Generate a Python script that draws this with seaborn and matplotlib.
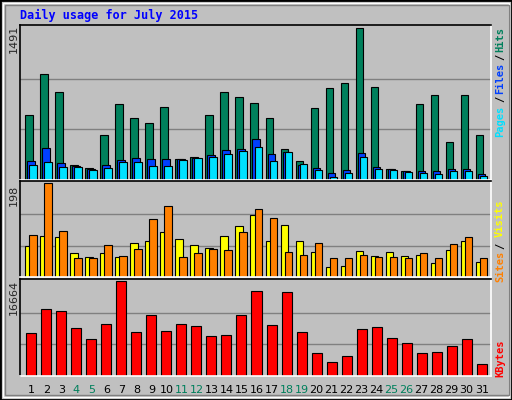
import matplotlib
matplotlib.use("Agg")
import matplotlib.pyplot as plt
import seaborn as sns
import pandas as pd
import numpy as np
from matplotlib.patches import Rectangle

sns.set_style("white")

days = list(range(1, 32))
weekend_days = [4, 5, 11, 12, 18, 19, 25, 26]
hits = [641,1036,864,145,115,439,742,611,560,712,206,226,641,864,813,752,611,307,186,702,904,955,1491,914,105,84,742,833,368,833,439]
files = [186,317,165,135,105,145,196,216,206,206,206,216,246,297,307,398,256,277,145,115,64,94,266,125,105,84,84,84,105,105,54]
pages = [145,175,125,125,94,115,175,175,135,135,196,216,226,256,287,327,186,277,155,94,34,64,226,105,94,74,64,54,84,84,44]
visits = [65,86,84,50,43,50,43,71,75,95,80,67,62,86,108,131,75,110,75,52,22,24,54,45,52,45,47,30,56,75,32]
sites = [88,198,97,39,39,67,45,58,121,149,43,50,58,56,95,144,125,52,47,71,39,39,47,43,43,39,50,41,69,84,41]
kbytes = [7541,11738,11373,8454,6447,9184,16664,7724,10643,7906,9184,8819,6994,7177,10643,14839,9001,14657,7724,4075,2433,3527,8271,8636,6629,5717,4075,4257,5170,6447,2068]

BG = "#C0C0C0"
W, H = 512, 400
fig = plt.figure(figsize=(W/100, H/100), dpi=100, facecolor=BG)

def fx(px): return px / W
def fy(py): return 1 - py / H

fig.patches.append(Rectangle((0, 0), 1, 1, transform=fig.transFigure, fill=False, ec="black", lw=2))
fig.patches.append(Rectangle((fx(3), fy(397)), fx(506), 394/H, transform=fig.transFigure, fill=False, ec="white", lw=1))
fig.patches.append(Rectangle((fx(5), fy(395)), fx(504), 390/H, transform=fig.transFigure, fill=False, ec="#808080", lw=1))

def mk_ax(top, bottom):
    ax = fig.add_axes([fx(20), fy(bottom), fx(491) - fx(20), (bottom - top) / H])
    ax.set_facecolor(BG)
    ax.set_xlim(-0.753, 30.62)
    for s in ["left", "top"]:
        ax.spines[s].set_color("black"); ax.spines[s].set_linewidth(1.2)
    for s in ["right", "bottom"]:
        ax.spines[s].set_color("white"); ax.spines[s].set_linewidth(1.2)
    ax.set_xticks([])
    return ax

x = np.arange(31)
bw = 0.48

ax1 = mk_ax(25, 180)
m1 = max(hits)
ax1.set_ylim(0, m1 * 1.02)
ax1.set_yticks([m1/3, 2*m1/3]); ax1.set_yticklabels([])
ax1.tick_params(left=False)
ax1.grid(axis="y", color="#808080", lw=1); ax1.set_axisbelow(True)
ax1.bar(x - 0.4, hits, width=bw, align="edge", color="#00805C", ec="black", lw=0.8)
ax1.bar(x - 0.267, files, width=bw, align="edge", color="#0040FF", ec="black", lw=0.8)
ax1.bar(x - 0.133, pages, width=bw, align="edge", color="#00E0FF", ec="black", lw=0.8)

ax2 = mk_ax(181, 277)
m2 = max(sites)
ax2.set_ylim(0, m2 * 1.02)
ax2.set_yticks([m2/3, 2*m2/3]); ax2.set_yticklabels([])
ax2.tick_params(left=False)
ax2.grid(axis="y", color="#808080", lw=1); ax2.set_axisbelow(True)
ax2.bar(x - 0.4, visits, width=bw, align="edge", color="#FFFF00", ec="black", lw=0.8)
ax2.bar(x - 0.133, sites, width=bw, align="edge", color="#FF8000", ec="black", lw=0.8)

ax3 = mk_ax(279, 376)
m3 = max(kbytes)
df = pd.DataFrame({"day": days, "kbytes": kbytes})
sns.barplot(data=df, x="day", y="kbytes", ax=ax3, color="#FF0000", saturation=1,
            width=0.667, edgecolor="black", linewidth=0.8)
ax3.set_xlim(-0.753, 30.62)
ax3.set_ylim(0, m3 * 1.02)
ax3.set_yticks([m3/3, 2*m3/3]); ax3.set_yticklabels([])
ax3.tick_params(left=False, bottom=False)
ax3.grid(axis="y", color="#808080", lw=1); ax3.set_axisbelow(True)
ax3.set_xlabel(""); ax3.set_ylabel("")
ax3.set_xticks(x)
ax3.set_xticklabels([str(d) for d in days], fontsize=8, family="DejaVu Sans")
for lab, d in zip(ax3.get_xticklabels(), days):
    lab.set_color("#00805C" if d in weekend_days else "black")
ax3.tick_params(axis="x", pad=3)

mono = dict(family="DejaVu Sans Mono", fontweight="bold")
fig.text(fx(20), fy(15), "Daily usage for July 2015", color="#0000FF", fontsize=8.5, va="center", **mono)

for txt, py in [("1491", 39), ("198", 195), ("16664", 297)]:
    fig.text(fx(14), fy(py), txt, rotation=90, fontsize=8, va="center", ha="center", family="DejaVu Sans")

def rlab(items):
    for t, c, py in items:
        fig.text(fx(500), fy(py), t, rotation=90, color=c, fontsize=7.5, va="center", ha="center", **mono)

rlab([("Hits", "#00805C", 39), ("/", "black", 57), ("Files", "#0040FF", 78),
      ("/", "black", 99), ("Pages", "#00E0FF", 121),
      ("Visits", "#FFFF00", 218), ("/", "black", 246), ("Sites", "#FF8000", 266),
      ("KBytes", "#FF0000", 358)])

fig.savefig("out.png", dpi=100, facecolor=BG)
